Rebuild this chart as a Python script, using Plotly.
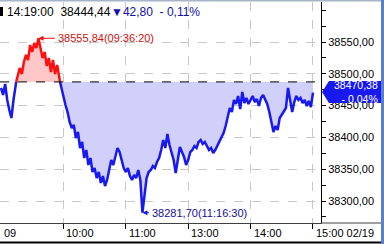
import plotly.graph_objects as go

# trading minutes from 09:00 (morning 09:00-11:30, afternoon 12:30-15:00 joined)
minutes = list(range(0, 302, 2))
prices = [
    38477.7, 38466.7, 38484.0, 38458.8, 38443.1, 38430.5, 38458.8, 38482.4, 38498.1, 38509.1,
    38499.7, 38518.6, 38529.6, 38521.7, 38545.3, 38534.3, 38548.4, 38540.6, 38555.84, 38537.4,
    38524.8, 38534.3, 38512.3, 38524.8, 38502.8, 38521.7, 38499.7, 38513.8, 38493.4, 38477.7,
    38465.1, 38450.9, 38439.9, 38424.2, 38414.8, 38419.5, 38399.1, 38408.5, 38383.3, 38392.8,
    38367.6, 38380.2, 38356.6, 38367.6, 38345.6, 38351.9, 38336.2, 38345.6, 38328.3, 38339.3,
    38323.6, 38333.0, 38348.7, 38364.5, 38356.6, 38372.3, 38383.3, 38377.0, 38364.5, 38351.9,
    38345.6, 38351.9, 38339.3, 38333.0, 38340.9, 38336.2, 38348.7, 38333.0, 38281.70, 38309.4,
    38336.2, 38345.6, 38348.7, 38355.0, 38351.9, 38361.3, 38367.6, 38380.2, 38395.9, 38383.3,
    38405.3, 38388.0, 38377.0, 38364.5, 38344.0, 38367.6, 38384.9, 38377.0, 38369.2, 38356.6,
    38364.5, 38377.0, 38380.2, 38386.5, 38383.3, 38392.8, 38395.9, 38389.6, 38392.8, 38386.5,
    38380.2, 38383.3, 38375.5, 38380.2, 38386.5, 38394.3, 38400.6, 38406.9, 38417.9, 38430.5,
    38446.2, 38439.9, 38458.8, 38452.5, 38465.1, 38444.4, 38471.4, 38454.1, 38462.0, 38452.5,
    38458.8, 38465.1, 38455.7, 38460.4, 38449.4, 38462.0, 38466.7, 38460.4, 38452.5, 38439.9,
    38424.2, 38408.5, 38417.9, 38411.6, 38430.5, 38435.2, 38439.9, 38446.2, 38477.7, 38458.8,
    38439.9, 38455.7, 38465.1, 38458.8, 38462.0, 38454.1, 38458.8, 38449.4, 38457.2, 38447.8,
    38470.38,
]
prev_close = 38487.24
y_ticks = [38300, 38350, 38400, 38450, 38500, 38550]
y_tick_text = ["38300,00", "38350,00", "38400,00", "38450,00", "38500,00", "38550,00"]
x_ticks = [60, 120, 180, 240, 300]
x_tick_text = ["10:00", "11:00", "13:00", "14:00", "15:00 02/19"]
header_time = "14:19:00"
header_price = "38444,44"
header_change = "42,80"
header_pct = "- 0,11%"
high_label = "38555,84(09:36:20)"
low_label = "38281,70(11:16:30)"
last_label = ["38470,38", "- 0,04%"]

FONT = "Liberation Sans"
RED = "#ff1010"
BLUE = "#1818f0"

# split the line at prev_close (insert crossing points for rendering)
xs, ys = [], []
for i in range(len(prices)):
    if i > 0:
        a, b = prices[i - 1], prices[i]
        if (a - prev_close) * (b - prev_close) < 0:
            t = (prev_close - a) / (b - a)
            xs.append(minutes[i - 1] + t * (minutes[i] - minutes[i - 1]))
            ys.append(prev_close)
    xs.append(minutes[i])
    ys.append(prices[i])

# the reference leaves the opening dip (before the first rise) unfilled
first_up = next(x for x, v in zip(xs, ys) if v > prev_close)
up = [max(v, prev_close) for v in ys]
dn = [min(v, prev_close) if x >= first_up else prev_close for x, v in zip(xs, ys)]
red_line = [v if v >= prev_close else None for v in ys]
blue_line = [v if v <= prev_close else None for v in ys]

fig = go.Figure()
fig.add_trace(go.Scatter(x=xs, y=[prev_close] * len(xs), mode="lines",
                         line=dict(width=0), hoverinfo="skip", showlegend=False))
fig.add_trace(go.Scatter(x=xs, y=up, mode="lines", line=dict(width=0),
                         fill="tonexty", fillcolor="rgb(255,200,200)",
                         hoverinfo="skip", showlegend=False))
fig.add_trace(go.Scatter(x=xs, y=[prev_close] * len(xs), mode="lines",
                         line=dict(width=0), hoverinfo="skip", showlegend=False))
fig.add_trace(go.Scatter(x=xs, y=dn, mode="lines", line=dict(width=0),
                         fill="tonexty", fillcolor="rgb(208,208,250)",
                         hoverinfo="skip", showlegend=False))
fig.add_trace(go.Scatter(x=xs, y=red_line, mode="lines",
                         line=dict(color=RED, width=2.5), connectgaps=False,
                         showlegend=False))
fig.add_trace(go.Scatter(x=xs, y=blue_line, mode="lines",
                         line=dict(color=BLUE, width=2.5), connectgaps=False,
                         showlegend=False))

W, H = 384, 244
L, R, T, B = 0, 63, 2, 21
pw, ph = W - L - R, H - T - B


def px(xp):
    return (xp - L) / pw


def py(yp):
    return (H - B - yp) / ph


fig.update_layout(
    width=W, height=H,
    margin=dict(l=L, r=R, t=T, b=B, pad=0),
    paper_bgcolor="white", plot_bgcolor="white",
    showlegend=False,
    font=dict(family=FONT, size=11, color="black"),
    xaxis=dict(range=[-0.96, 307.7], tickvals=x_ticks, showticklabels=False,
               ticks="outside", ticklen=5, tickcolor="black",
               showgrid=True, gridcolor="#c8c8c8", griddash="dash", gridwidth=1,
               zeroline=False, showline=True, linecolor="#404040", linewidth=1),
    yaxis=dict(range=[38265.4, 38612.9], side="right", tickvals=y_ticks,
               ticktext=y_tick_text, ticks="outside", ticklen=4, tickcolor="black",
               minor=dict(dtick=25, tick0=38275, ticks="outside", ticklen=4,
                          tickcolor="black", showgrid=False),
               showgrid=True, gridcolor="#c8c8c8", griddash="dash", gridwidth=1,
               zeroline=False, showline=True, linecolor="black", linewidth=1,
               tickfont=dict(family=FONT, size=11, color="black")),
)

# previous close dashed line
fig.add_shape(type="line", xref="paper", yref="y", x0=0, x1=1, y0=prev_close,
              y1=prev_close, line=dict(color="black", width=1, dash="dash"))

# last price tag
tag = (f"M {px(322)},{py(92)} L {px(329)},{py(81)} L {px(381)},{py(81)} "
       f"L {px(381)},{py(103)} L {px(329)},{py(103)} Z")
fig.add_shape(type="path", xref="paper", yref="paper", path=tag,
              fillcolor=BLUE, line=dict(width=0), layer="above")
fig.add_annotation(xref="paper", yref="paper", x=px(379), y=py(92),
                   text="<br>".join(last_label), showarrow=False,
                   xanchor="right", yanchor="middle", align="right",
                   borderpad=0, font=dict(color="white", size=10.5))

# x tick labels (left aligned after tick)
for v, t in zip(x_ticks, x_tick_text):
    fig.add_annotation(xref="x", yref="paper", x=v, y=py(233), text=t,
                       showarrow=False, xanchor="left", yanchor="middle",
                       xshift=1, font=dict(size=11, color="black"))
fig.add_annotation(xref="paper", yref="paper", x=px(2), y=py(233), text="09",
                   showarrow=False, xanchor="left", yanchor="middle",
                   font=dict(size=11, color="black"))

# high / low markers
hi_i = prices.index(max(prices))
lo_i = prices.index(min(prices))
fig.add_annotation(x=minutes[hi_i], y=prices[hi_i], text="", showarrow=True,
                   ax=18, ay=0, arrowhead=2, arrowsize=1, arrowwidth=1,
                   arrowcolor=RED, standoff=0)
fig.add_annotation(x=minutes[hi_i], y=prices[hi_i], text=high_label,
                   showarrow=False, xanchor="left", yanchor="middle", xshift=18,
                   font=dict(size=11, color="#d01010"))
fig.add_annotation(x=minutes[lo_i], y=prices[lo_i], text="", showarrow=True,
                   ax=8, ay=0, arrowhead=2, arrowsize=1, arrowwidth=1,
                   arrowcolor=BLUE, standoff=0)
fig.add_annotation(x=minutes[lo_i], y=prices[lo_i], text=low_label,
                   showarrow=False, xanchor="left", yanchor="middle", xshift=8,
                   font=dict(size=11, color="#1010a0"))

# header
fig.add_shape(type="rect", xref="paper", yref="paper", x0=px(0), x1=px(3),
              y0=py(16), y1=py(7), fillcolor="black", line=dict(width=0))
fig.add_annotation(xref="paper", yref="paper", x=px(5), y=py(12),
                   text=f"{header_time}  {header_price}  ", showarrow=False,
                   xanchor="left", yanchor="middle",
                   font=dict(size=12, color="black"))
fig.add_annotation(xref="paper", yref="paper", x=px(109), y=py(12),
                   text=f"▼{header_change}  {header_pct}", showarrow=False,
                   xanchor="left", yanchor="middle",
                   font=dict(size=12, color="#1010b0"))

# window frame bits
fig.add_shape(type="rect", xref="paper", yref="paper", x0=px(381), x1=px(384),
              y0=py(244), y1=py(0), fillcolor="#5b7fc8", line=dict(width=0))
fig.add_shape(type="rect", xref="paper", yref="paper", x0=px(0), x1=px(381),
              y0=py(1.5), y1=py(0), fillcolor="#a8b4c8", line=dict(width=0))
fig.add_shape(type="line", xref="paper", yref="paper", x0=px(0), x1=px(381),
              y0=py(242.5), y1=py(242.5), line=dict(color="black", width=2))
fig.add_shape(type="line", xref="paper", yref="paper", x0=px(321), x1=px(381),
              y0=py(223), y1=py(223), line=dict(color="#404040", width=1))

fig.write_html("out.html")
